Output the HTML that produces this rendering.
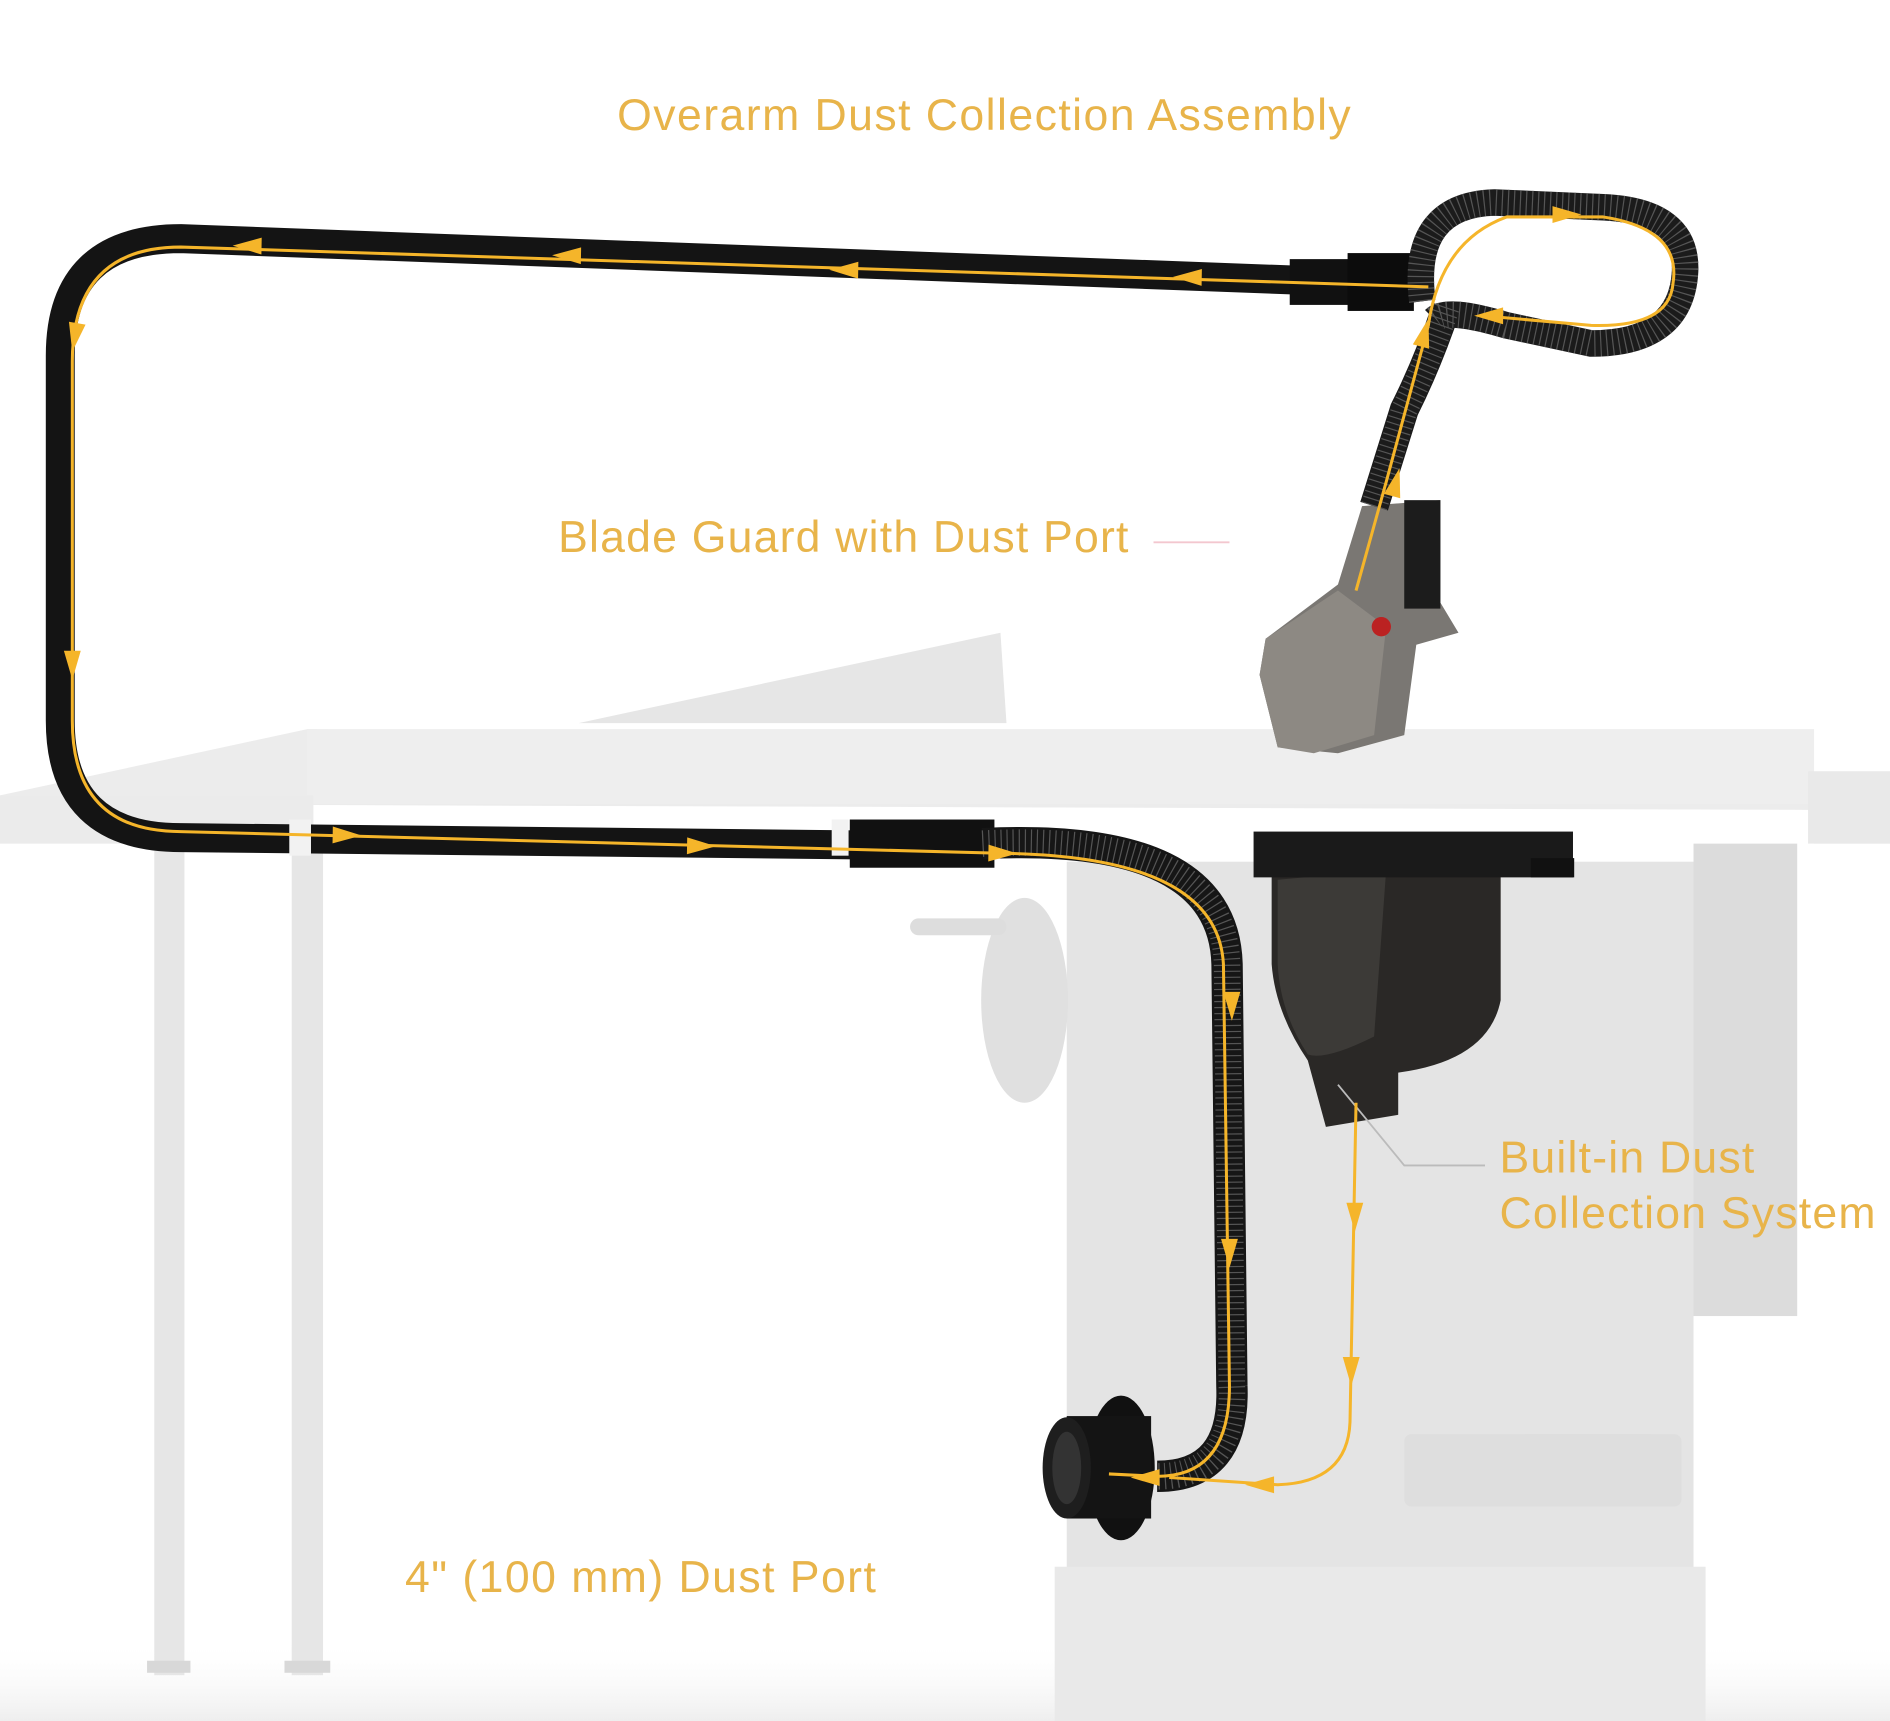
<!DOCTYPE html>
<html><head><meta charset="utf-8"><style>
html,body{margin:0;padding:0;background:#fff;}
svg{display:block}
text{font-family:"Liberation Sans",sans-serif;fill:#e8b44a;font-weight:300}
</style></head><body>
<svg width="1890" height="1721" viewBox="0 0 1568 1428" preserveAspectRatio="none" xmlns="http://www.w3.org/2000/svg">
<defs>
<linearGradient id="fl" x1="0" y1="0" x2="0" y2="1"><stop offset="0" stop-color="#fff" stop-opacity="0"/><stop offset="1" stop-color="#eee"/></linearGradient>
<g id="ar"><polygon points="-12,-7 12,0 -12,7" fill="#f5b52a"/></g>
</defs>
<rect width="1568" height="1428" fill="#fff"/>
<rect x="0" y="1360" width="1568" height="68" fill="url(#fl)"/>
<rect x="128" y="700" width="25" height="690" fill="#e6e6e6"/>
<rect x="242" y="700" width="26" height="690" fill="#e6e6e6"/>
<rect x="122" y="1378" width="36" height="10" fill="#d8d8d8"/>
<rect x="236" y="1378" width="38" height="10" fill="#d8d8d8"/>
<rect x="885" y="715" width="520" height="600" fill="#e4e4e4"/>
<rect x="1405" y="700" width="86" height="392" fill="#dcdcdc"/>
<rect x="875" y="1300" width="540" height="128" fill="#e9e9e9"/>
<rect x="1165" y="1190" width="230" height="60" fill="#dedede" rx="6"/>
<polygon points="480,600 830,525 835,600" fill="#e6e6e6"/>
<polygon points="0,660 255,605 1350,615 1505,640 1568,640 1568,700 1505,700 1500,672 260,668 0,700" fill="#ececec"/>
<rect x="255" y="605" width="1250" height="62" fill="#eeeeee"/>
<rect x="0" y="660" width="260" height="40" fill="#ebebeb"/>
<rect x="1500" y="640" width="68" height="60" fill="#e9e9e9"/>
<ellipse cx="850" cy="830" rx="36" ry="85" fill="#e0e0e0"/>
<rect x="755" y="762" width="80" height="14" rx="7" fill="#ddd"/>
<path d="M1055,725 L1245,710 L1245,830 Q1235,880 1160,890 L1160,925 L1100,935 L1085,880 Q1058,840 1055,800 Z" fill="#2a2826"/>
<path d="M1060,730 L1150,722 L1140,860 Q1100,880 1085,875 Q1062,840 1060,800 Z" fill="#3c3a37"/>
<rect x="1040" y="690" width="265" height="38" fill="#1a1a1a"/>
<rect x="1270" y="712" width="36" height="16" fill="#111"/>
<polygon points="1130,420 1195,415 1195,500 1210,525 1175,535 1165,610 1110,625 1060,620 1045,560 1050,530 1110,485" fill="#7a7773"/>
<polygon points="1050,530 1110,490 1150,520 1140,610 1090,625 1060,620 1045,560" fill="#8d8983"/>
<rect x="1165" y="415" width="30" height="90" fill="#1c1c1c"/>
<circle cx="1146" cy="520" r="8" fill="#b22"/>
<path d="M1145,235 L150,198 Q50,198 50,295 L50,598 Q50,695 150,695 L800,702" fill="none" stroke="#141414" stroke-width="24" stroke-linejoin="round"/>
<rect x="1070" y="215" width="55" height="38" fill="#111"/>
<rect x="1118" y="210" width="55" height="48" fill="#0c0c0c"/>
<rect x="705" y="680" width="120" height="40" fill="#111"/>
<rect x="240" y="680" width="18" height="30" fill="#f2f2f2"/>
<rect x="690" y="680" width="14" height="30" fill="#f2f2f2"/>
<g fill="none">
<path d="M1180,250 Q1170,170 1240,168 L1330,172 Q1400,175 1398,225 Q1395,285 1320,285 L1250,270 Q1200,255 1190,265" stroke="#1b1b1b" stroke-width="22"/>
<path d="M1200,255 Q1185,300 1165,340 L1140,420" stroke="#1b1b1b" stroke-width="24"/>
<path d="M815,700 Q1015,690 1018,800 L1022,1150 Q1025,1225 960,1225" stroke="#161616" stroke-width="26"/>
<g stroke="#555" stroke-width="22" stroke-dasharray="1 4">
<path d="M1180,250 Q1170,170 1240,168 L1330,172 Q1400,175 1398,225 Q1395,285 1320,285 L1250,270 Q1200,255 1190,265"/>
<path d="M1200,255 Q1185,300 1165,340 L1140,420"/>
<path d="M815,700 Q1015,690 1018,800 L1022,1150 Q1025,1225 960,1225"/>
</g>
</g>
<ellipse cx="930" cy="1218" rx="28" ry="60" fill="#111"/>
<rect x="885" y="1175" width="70" height="85" fill="#141414"/>
<ellipse cx="885" cy="1218" rx="20" ry="42" fill="#1e1e1e"/>
<ellipse cx="885" cy="1218" rx="12" ry="30" fill="#333"/>
<line x1="957" y1="450" x2="1020" y2="450" stroke="#f3c7cf" stroke-width="1.5"/>
<polyline points="1110,900 1165,967 1232,967" fill="none" stroke="#bbb" stroke-width="1.5"/>
<g fill="none" stroke="#f5b52a" stroke-width="2.5" stroke-linejoin="round">
<path d="M1185,238 L150,205 Q60,205 60,300 L60,598 Q60,690 150,690 L830,708 Q1010,710 1015,800 L1020,1150 Q1020,1225 960,1225 L920,1223"/>
<path d="M1125,490 L1150,400 L1185,270 Q1195,200 1250,180 L1330,180 Q1395,190 1388,235 Q1385,272 1320,270 L1230,262"/>
<path d="M1125,915 L1120,1180 Q1118,1230 1060,1232 L970,1226"/>
</g>
<g>
<use href="#ar" transform="translate(205,204) rotate(181)"/>
<use href="#ar" transform="translate(470,212) rotate(181)"/>
<use href="#ar" transform="translate(700,224) rotate(181)"/>
<use href="#ar" transform="translate(985,230) rotate(181)"/>
<use href="#ar" transform="translate(62,280) rotate(100)"/>
<use href="#ar" transform="translate(60,552) rotate(90)"/>
<use href="#ar" transform="translate(288,693) rotate(1)"/>
<use href="#ar" transform="translate(582,702) rotate(1)"/>
<use href="#ar" transform="translate(832,708) rotate(1)"/>
<use href="#ar" transform="translate(1022,835) rotate(90)"/>
<use href="#ar" transform="translate(1020,1040) rotate(90)"/>
<use href="#ar" transform="translate(1124,1010) rotate(90)"/>
<use href="#ar" transform="translate(1121,1138) rotate(90)"/>
<use href="#ar" transform="translate(1045,1232) rotate(180)"/>
<use href="#ar" transform="translate(950,1226) rotate(180)"/>
<use href="#ar" transform="translate(1158,400) rotate(-75)"/>
<use href="#ar" transform="translate(1182,276) rotate(-75)"/>
<use href="#ar" transform="translate(1300,178) rotate(0)"/>
<use href="#ar" transform="translate(1235,262) rotate(180)"/>
</g>
<text x="512" y="108" font-size="37" letter-spacing="1.2">Overarm Dust Collection Assembly</text>
<text x="463" y="458" font-size="37" letter-spacing="1.0">Blade Guard with Dust Port</text>
<text x="1244" y="973" font-size="37" letter-spacing="1">Built-in Dust</text>
<text x="1244" y="1019" font-size="37" letter-spacing="1">Collection System</text>
<text x="336" y="1321" font-size="37" letter-spacing="1.2">4" (100 mm) Dust Port</text>
</svg>
</body></html>
